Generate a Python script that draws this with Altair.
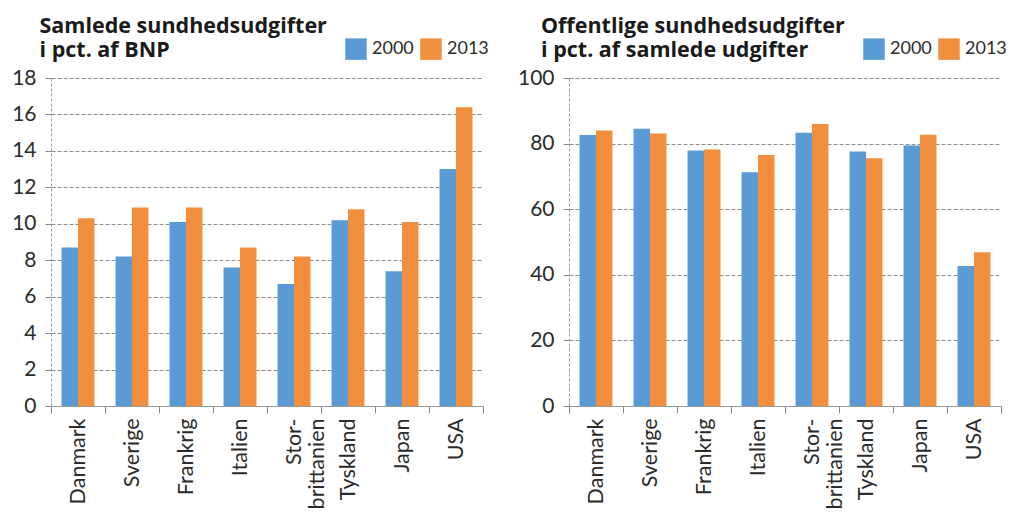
import altair as alt
import pandas as pd

# ---- data ----
countries = ["Danmark", "Sverige", "Frankrig", "Italien", "Stor-brittanien",
             "Tyskland", "Japan", "USA"]
years = ["2000", "2013"]

bnp_2000 = [8.7, 8.2, 10.1, 7.6, 6.7, 10.2, 7.4, 13.0]
bnp_2013 = [10.3, 10.9, 10.9, 8.7, 8.2, 10.8, 10.1, 16.4]

off_2000 = [82.6, 84.5, 77.9, 71.3, 83.3, 77.6, 79.4, 42.7]
off_2013 = [84.0, 83.1, 78.2, 76.5, 86.0, 75.5, 82.7, 46.9]

y_ticks_left = [0, 2, 4, 6, 8, 10, 12, 14, 16, 18]
y_ticks_right = [0, 20, 40, 60, 80, 100]

title_left = ["Samlede sundhedsudgifter", "i pct. af BNP"]
title_right = ["Offentlige sundhedsudgifter", "i pct. af samlede udgifter"]

BLUE = "#5b9bd5"
ORANGE = "#f28f3f"
TEXT = "#2b2b2b"
LABEL_FONT = "Lato"
TITLE_FONT = "Open Sans"


def to_long(v2000, v2013):
    rows = []
    for c, a, b in zip(countries, v2000, v2013):
        rows.append({"land": c, "aar": years[0], "v": a})
        rows.append({"land": c, "aar": years[1], "v": b})
    return pd.DataFrame(rows)


def panel(df, title, ymax, yticks, height, title_dx):
    color = alt.Color(
        "aar:N",
        scale=alt.Scale(domain=years, range=[BLUE, ORANGE]),
        legend=alt.Legend(
            title=None, orient="none", legendX=294, legendY=-40, padding=0,
            direction="horizontal", symbolType="square", symbolSize=462,
            symbolStrokeWidth=0, symbolOpacity=1,
            labelFont=LABEL_FONT, labelFontSize=18, labelColor=TEXT,
            labelOffset=5, columnPadding=6,
        ),
    )
    x = alt.X(
        "land:N", sort=countries,
        scale=alt.Scale(paddingInner=0, paddingOuter=0),
        axis=alt.Axis(
            title=None, labelAngle=-90, tickBand="extent", grid=False,
            labelExpr="datum.value == 'Stor-brittanien' ? ['Stor-', 'brittanien'] : datum.value",
            labelFont=LABEL_FONT, labelFontSize=21.5, labelColor=TEXT,
            labelLineHeight=23, labelPadding=5, tickSize=7,
            tickColor="#888", domainColor="#999",
        ),
    )
    y = alt.Y(
        "v:Q",
        scale=alt.Scale(domain=[0, ymax], nice=False),
        axis=alt.Axis(
            title=None, values=yticks, tickSize=6, tickColor="#888",
            labelPadding=9, labelFont=LABEL_FONT, labelFontSize=21,
            labelColor=TEXT, domainColor="#999", domainDash=[3, 2],
            gridDash=[4, 2], gridColor="#8c8c8c", gridWidth=1,
        ),
    )
    return alt.Chart(
        df,
        title=alt.TitleParams(
            text=title, anchor="start", frame="group", dx=title_dx,
            font=TITLE_FONT, fontSize=21.5, fontWeight="bold", color="#1a1a1a",
            lineHeight=24, offset=-23,
        ),
    ).mark_bar().encode(
        x=x,
        xOffset=alt.XOffset("aar:N", sort=years,
                            scale=alt.Scale(paddingOuter=0.64, paddingInner=0)),
        y=y,
        color=color,
    ).properties(width=432, height=height)


left = panel(to_long(bnp_2000, bnp_2013), title_left, 18, y_ticks_left, 328, -11.5)
right = panel(to_long(off_2000, off_2013), title_right, 100, y_ticks_right, 328, -28)

chart = alt.hconcat(left, right, spacing=26).resolve_scale(
    color="independent"
).properties(
    padding={"left": 3, "top": 7, "right": 0, "bottom": 0}
).configure_view(stroke="transparent")

chart.save("out.html", embed_options={"renderer": "svg", "actions": False})
